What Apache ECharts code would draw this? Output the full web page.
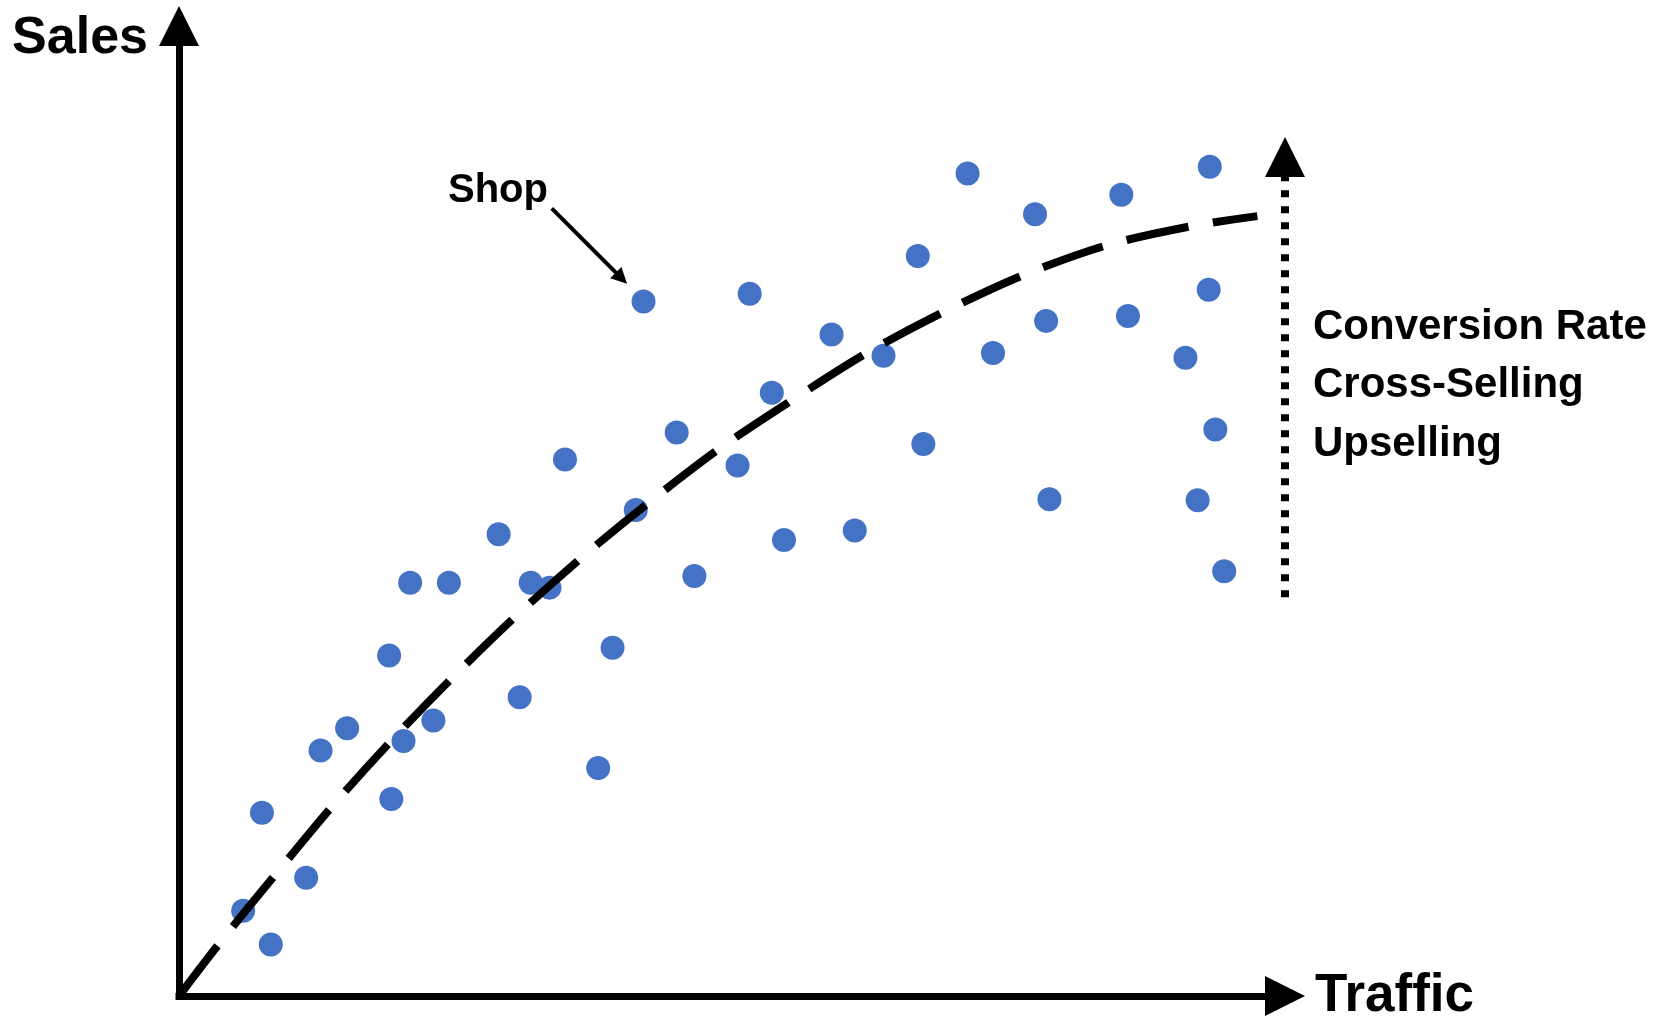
<!DOCTYPE html>
<html>
<head>
<meta charset="utf-8">
<title>Traffic vs Sales</title>
<script src="https://cdn.jsdelivr.net/npm/echarts@6/dist/echarts.min.js"></script>
<style>
  html, body { margin: 0; padding: 0; background: #ffffff; }
  #chart { width: 1657px; height: 1017px; }
</style>
</head>
<body>
<div id="chart"></div>
<script>
// ---- data (0-100 scale on both axes) ----
const shopTraffic = [5.8, 8.3, 7.5, 11.5, 12.8, 15.2, 19.2, 20.3, 19.0, 23.0, 20.9, 24.4, 28.9, 30.8, 31.8, 33.5, 34.9, 37.9, 39.2, 41.3, 42.0, 45.0, 46.6, 50.5, 51.6, 53.6, 54.7, 59.0, 61.1, 63.7, 66.8, 67.3, 71.3, 73.6, 77.4, 78.4, 78.7, 85.2, 85.8, 91.0, 92.1, 93.2, 93.1, 93.7, 94.5];
const shopSales   = [8.8, 5.3, 18.9, 12.2, 25.3, 27.6, 20.3, 26.3, 35.1, 28.4, 42.6, 42.6, 47.6, 30.8, 42.6, 42.1, 55.3, 23.5, 35.9, 50.1, 71.6, 58.1, 43.3, 54.7, 72.4, 62.2, 47.0, 68.2, 48.0, 66.0, 76.3, 56.9, 84.8, 66.3, 80.6, 69.6, 51.2, 82.6, 70.1, 65.8, 51.1, 85.5, 72.8, 58.4, 43.8];

const trendTraffic = [0, 3.7, 8.7, 13.8, 19.1, 24.7, 30.4, 36.4, 42.4, 48.7, 55.4, 62.2, 69.1, 76.3, 83.9, 91.7, 97.5];
const trendSales   = [0, 5.5, 12.5, 19.5, 26.2, 32.8, 39.1, 45.2, 50.8, 56.3, 61.4, 66.3, 70.5, 74.3, 77.4, 79.4, 80.4];

const shopLabel = 'Shop';
const shopArrowFrom = [33.7, 81.2];
const shopArrowTo = [40.0, 74.0];

const liftTraffic = 100;
const liftFrom = 41.1;
const liftTo = 86.5;
const liftLabels = ['Conversion Rate', 'Cross-Selling', 'Upselling'];

const xAxisTitle = 'Traffic';
const yAxisTitle = 'Sales';

// ---- chart ----
const FONT = '"Liberation Sans", Arial, Helvetica, sans-serif';
const chart = echarts.init(document.getElementById('chart'), null, { renderer: 'canvas' });

const scatterData = shopTraffic.map((x, i) => [x, shopSales[i]]);
const trendData = trendTraffic.map((x, i) => [x, trendSales[i]]);

const axisLineStyle = { color: '#000000', width: 7, cap: 'square' };

chart.setOption({
  animation: false,
  backgroundColor: '#ffffff',
  grid: { left: 179, right: 372, top: 26, bottom: 21, containLabel: false, outerBoundsMode: 'none' },
  xAxis: {
    type: 'value', min: 0, max: 100,
    name: xAxisTitle, nameLocation: 'end', nameGap: 30,
    nameTextStyle: { fontFamily: FONT, fontWeight: 'bold', fontSize: 53, color: '#000', align: 'left', verticalAlign: 'middle' },
    axisLine: { show: true, onZero: false, symbol: ['none', 'triangle'], symbolSize: [40, 40], lineStyle: axisLineStyle },
    axisTick: { show: false }, axisLabel: { show: false }, splitLine: { show: false }
  },
  yAxis: {
    type: 'value', min: 0, max: 100,
    name: yAxisTitle, nameLocation: 'end', nameGap: -13,
    nameTextStyle: { fontFamily: FONT, fontWeight: 'bold', fontSize: 52, color: '#000', align: 'right', verticalAlign: 'middle', padding: [0, 31, 0, 0] },
    axisLine: { show: true, onZero: false, symbol: ['none', 'triangle'], symbolSize: [40, 40], lineStyle: axisLineStyle },
    axisTick: { show: false }, axisLabel: { show: false }, splitLine: { show: false }
  },
  series: [
    {
      name: 'Trend', type: 'line', data: trendData, smooth: 0.3, showSymbol: false, symbol: 'none',
      lineStyle: { color: '#000000', width: 8, type: [63, 25], cap: 'butt' },
      silent: true, z: 3,
      markLine: {
        silent: true, animation: false,
        symbol: ['none', 'triangle'], symbolSize: 40,
        label: { show: false },
        lineStyle: { color: '#000000', width: 8, type: [7, 9], cap: 'butt' },
        emphasis: { disabled: true },
        data: [[{ coord: [liftTraffic, liftFrom] }, { coord: [liftTraffic, liftTo] }]]
      }
    },
    {
      name: 'Shops', type: 'scatter', data: scatterData, symbol: 'circle', symbolSize: 24,
      itemStyle: { color: '#4472C4', opacity: 1 }, z: 2,
      markLine: {
        silent: true, animation: false,
        symbol: ['none', 'triangle'], symbolSize: 16,
        label: { show: false },
        lineStyle: { color: '#000000', width: 4, type: 'solid' },
        emphasis: { disabled: true },
        data: [[{ coord: shopArrowFrom }, { coord: shopArrowTo }]]
      }
    }
  ],
  graphic: [
    {
      type: 'text', left: 448, top: 171, silent: true,
      style: { text: shopLabel, font: 'bold 40px ' + FONT, fill: '#000000', lineHeight: 40 }
    },
    {
      type: 'text', left: 1313, top: 298, silent: true,
      style: { text: liftLabels.join('\n'), font: 'bold 42px ' + FONT, fill: '#000000', lineHeight: 58.5 }
    }
  ]
});
</script>
</body>
</html>
